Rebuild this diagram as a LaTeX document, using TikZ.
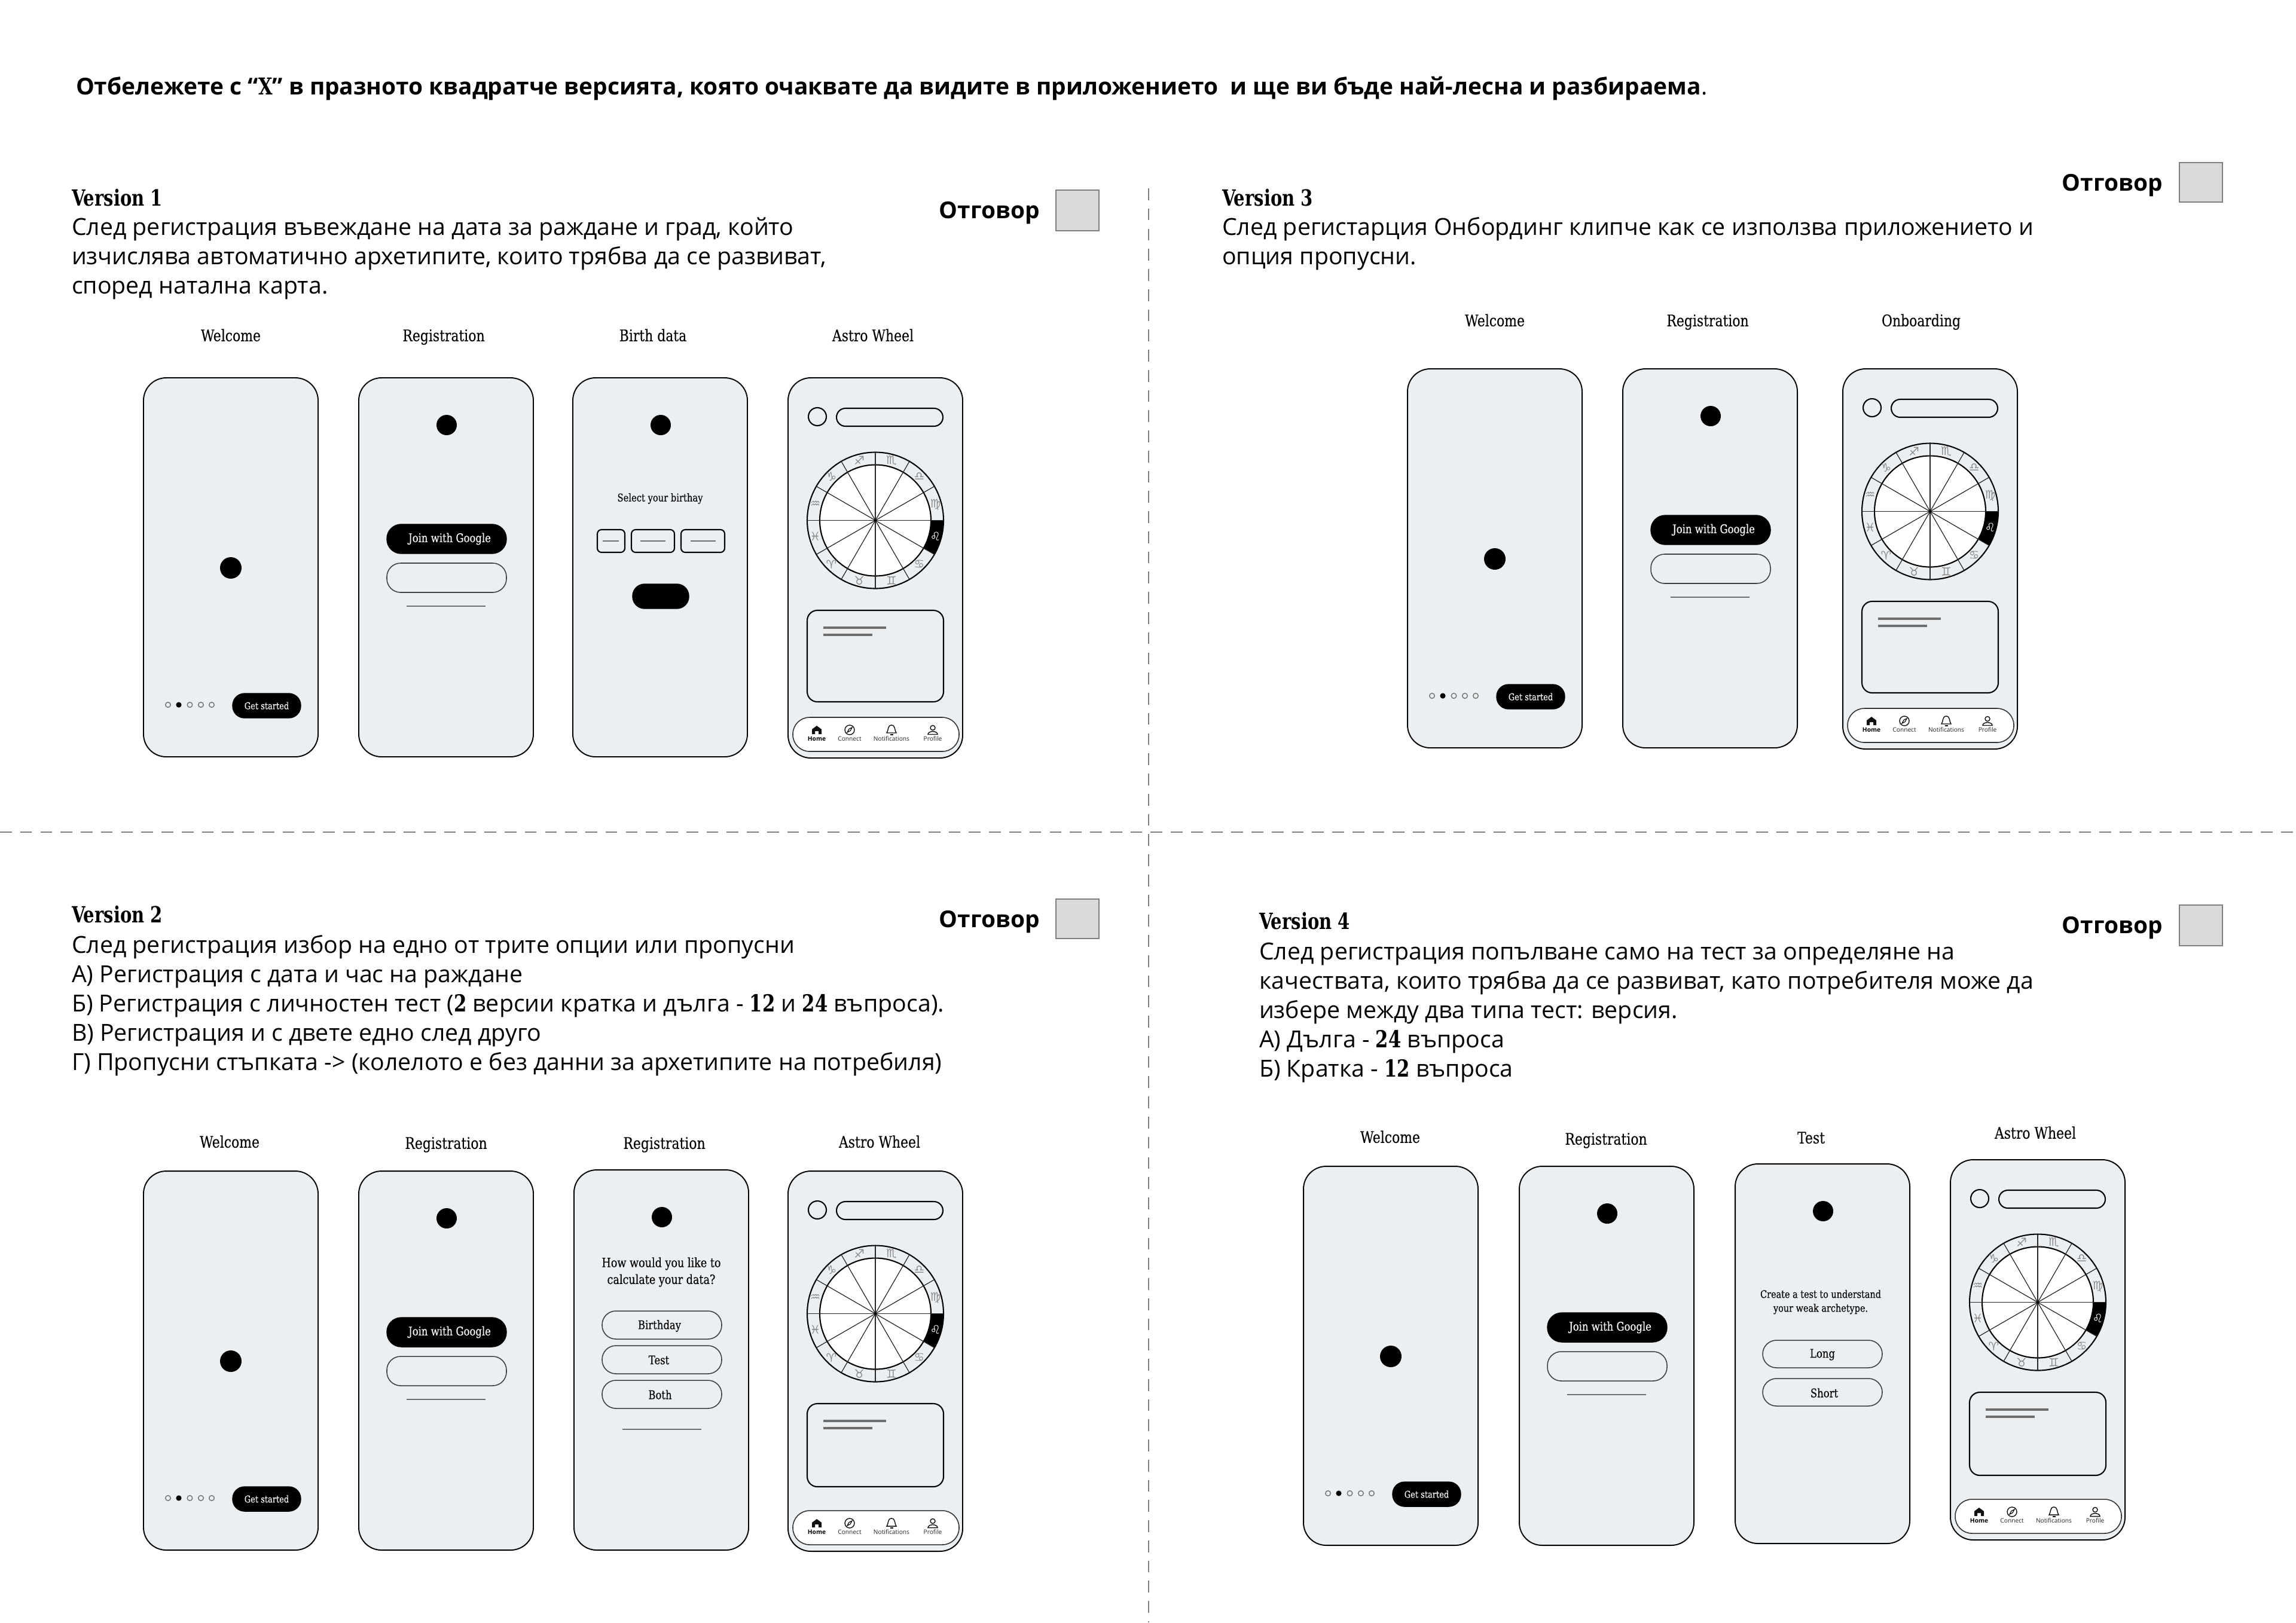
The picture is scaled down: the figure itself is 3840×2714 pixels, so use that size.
\documentclass[tikz,border=0pt]{standalone}
\usepackage{fontspec}
\setmainfont{Open Sans}
\newfontfamily\slab{DejaVu Serif}[FakeStretch=0.82,FakeBold=0.12]
\newfontfamily\slabb{DejaVu Serif Bold}[FakeStretch=0.78]
\newfontfamily\zod{DejaVu Sans}
\definecolor{scr}{HTML}{ECEFF2}
\definecolor{answer}{HTML}{D9D9D9}
\definecolor{dash}{HTML}{7F7F7F}
\definecolor{bar}{HTML}{6E6E6E}
\definecolor{zodg}{HTML}{8A8A8A}
\definecolor{ink}{HTML}{111111}
\tikzset{
  x=0.01cm,y=-0.01cm,
  every node/.style={inner sep=0pt,outer sep=0pt},
  phone/.style={draw=black,fill=scr,line width=0.55pt,rounded corners=0.38cm},
  pillout/.style={draw=black!75,fill=scr,line width=0.45pt,rounded corners=0.23cm},
  pillblack/.style={fill=black,rounded corners=0.2cm},
  joinblack/.style={fill=black,rounded corners=0.24cm},
  field/.style={draw=black,fill=scr,line width=0.6pt,rounded corners=0.07cm},
  barline/.style={draw=bar,line width=0.75pt},
  thinbar/.style={draw=bar,line width=0.4pt},
  body/.style={font=\fontsize{11.17}{13.94}\selectfont,align=left,anchor=north west},
  title/.style={font=\fontsize{11.05}{14}\selectfont\bfseries,anchor=west},
  ver/.style={font=\fontsize{10.6}{12}\selectfont\slabb,anchor=west},
  lab/.style={font=\fontsize{7.6}{10}\selectfont\slab,anchor=center,text height=6pt,text depth=1.6pt},
  mini/.style={font=\fontsize{5.7}{8}\selectfont\slab,anchor=center,align=center},
  tiny/.style={font=\fontsize{4.5}{6}\selectfont\slab,anchor=center,align=center},
  ans/.style={font=\fontsize{11.05}{14}\selectfont\bfseries,anchor=east},
  ansbox/.style={draw=dash,fill=answer,line width=0.5pt},
  sep/.style={draw=dash,line width=0.45pt,dash pattern=on 5.6pt off 4pt},
  navt/.style={font=\fontsize{2.9}{4}\selectfont,anchor=center,text=black!85},
  zg/.style={font=\fontsize{5.6}{7}\selectfont\zod,anchor=center},
}
\newcommand\dg[1]{{\slabb #1}}
\newcommand\welcomephone[3]{%
 \begin{scope}[shift={(#2,#3)}]
  \draw[phone] (0,0) rectangle (292,634);
  \fill[black] (146,318) circle (18);
  \foreach \dx in {41,77.5,96,114} {\draw[black!55,fill=scr,line width=0.4pt] (\dx,547) circle (4.3);}
  \fill[black] (59,547) circle (4.6);
  \draw[pillblack] (149,528) rectangle (263,569);
  \node[tiny,text=white] (#1go) at (206,548.5) {Get started};
 \end{scope}}
\newcommand\regphone[3]{%
 \begin{scope}[shift={(#2,#3)}]
  \draw[phone] (0,0) rectangle (292,634);
  \fill[black] (147,79) circle (17);
  \draw[joinblack] (47,245) rectangle (247,294);
  \node[mini,text=white] (#1join) at (152,269.5) {Join with Google};
  \draw[pillout] (47,310) rectangle (247,359);
  \draw[thinbar] (80,382) -- (212,382);
 \end{scope}}
\newcommand\navitems[1]{%
  \draw[draw=black!80,fill=white,line width=0.45pt,rounded corners=0.28cm] (8,568) rectangle (286,625);
  % home
  \fill[ink] (40,596) -- (40,588) -- (48,582) -- (56,588) -- (56,596) -- (51,596) -- (51,591) -- (45,591) -- (45,596) -- cycle;
  \node[navt,font=\fontsize{2.9}{4}\selectfont\bfseries,text=black] (#1home) at (48,603.5) {Home};
  % connect
  \draw[ink,line width=0.4pt] (103,589) circle (8);
  \draw[ink,line width=0.35pt] (99,593) -- (102,587.5) -- (107,585) -- (104,590.5) -- cycle;
  \node[navt] (#1conn) at (103,603.5) {Connect};
  % bell
  \draw[ink,line width=0.4pt] (165,594) .. controls (168,591) and (166,581) .. (173,581) .. controls (180,581) and (178,591) .. (181,594) -- cycle;
  \draw[ink,line width=0.4pt] (170.5,597) -- (175.5,597);
  \node[navt] (#1noti) at (173,603.5) {Notifications};
  % profile
  \draw[ink,line width=0.4pt] (242,585.5) circle (4);
  \draw[ink,line width=0.4pt] (234,596.5) .. controls (234,590) and (250,590) .. (250,596.5) -- cycle;
  \node[navt] (#1prof) at (242,603.5) {Profile};
}
\newcommand\wheel[1]{%
  \coordinate (#1c) at (146,238.5);
  \draw[black,fill=scr,line width=0.6pt] (#1c) circle (114);
  \fill[black] ($(#1c)+(0:93)$) arc[start angle=0,end angle=30,radius=93] -- ($(#1c)+(30:114)$) arc[start angle=30,end angle=0,radius=114] -- cycle;
  \draw[black,fill=white,line width=0.6pt] (#1c) circle (93);
  \foreach \a in {0,30,...,330} {\draw[black!85,line width=0.35pt] (#1c) -- ($(#1c)+(\a:114)$);}
  \fill[black] (#1c) circle (2);
  \foreach \a/\g/\i in {75/♏/a,45/♎/b,15/♍/c,-45/♋/d,-75/♊/e,-105/♉/f,-135/♈/g,-165/♓/h,165/♒/i,135/♑/j,105/♐/k} {
     \node[zg,text=zodg] (#1z\i) at ($(#1c)+(-\a:104)$) {\g};}
  \node[zg,text=white] (#1zl) at ($(#1c)+(15:104)$) {♌};
}
\newcommand\astrophone[4]{%
 \begin{scope}[shift={(#2,#3)}]
  \draw[phone] (0,0) rectangle (292,636);
  \draw[black,line width=0.6pt] (49,65) circle (15);
  \draw[black,fill=scr,line width=0.6pt,rounded corners=0.15cm] (81,51) rectangle (259,81);
  \wheel{#1}
  \draw[black,fill=scr,line width=0.6pt,rounded corners=0.17cm] (32,389) rectangle (260,#4);
  \draw[barline,line width=0.9pt] (59,418) -- (164,418);
  \draw[barline,line width=0.9pt] (59,430) -- (141,430);
  \navitems{#1}
 \end{scope}}
\usetikzlibrary{calc}
\begin{document}
\begin{tikzpicture}
\useasboundingbox (0,0) rectangle (3840,2714);
\fill[white] (0,0) rectangle (3840,2714);
% separators
\coordinate (hl) at (0,1392); \coordinate (hr) at (3840,1392);
\coordinate (vt) at (1921,315); \coordinate (vb) at (1921,2714);
\draw[sep] (hl) -- (hr);
\draw[sep] (vt) -- (vb);
% title
\node[title] (head) at (127,148) {Отбележете с “\dg{X}” в празното квадратче версията, която очаквате да видите в приложението \ и ще ви бъде най-лесна и разбираема\textmd{.}};
% answers
\node[ans] (a1) at (1739,356) {Отговор}; \draw[ansbox] (1766,318) rectangle (1838,386);
\node[ans] (a3) at (3617,310) {Отговор}; \draw[ansbox] (3645,272) rectangle (3717,338);
\node[ans] (a2) at (1739,1542) {Отговор}; \draw[ansbox] (1766,1504) rectangle (1838,1570);
\node[ans] (a4) at (3617,1552) {Отговор}; \draw[ansbox] (3645,1514) rectangle (3717,1582);
% version 1
\node[ver] (v1) at (120,331) {Version 1};
\node[body] (t1) at (120,359) {\strut След регистрация въвеждане на дата за раждане и град, който\\изчислява автоматично архетипите, които трябва да се развиват,\\според натална карта.};
\node[lab] (l11) at (386,563) {Welcome};
\node[lab] (l12) at (742,563) {Registration};
\node[lab] (l13) at (1092,563) {Birth data};
\node[lab] (l14) at (1460,563) {Astro Wheel};
\welcomephone{p11}{240}{632}
\regphone{p12}{600}{632}
\begin{scope}[shift={(958,632)}]
  \draw[phone] (0,0) rectangle (292,634);
  \fill[black] (147,79) circle (17);
  \node[tiny,font=\fontsize{5.1}{7}\selectfont\slab] (bday) at (146,202) {Select your birthay};
  \draw[field] (41,254) rectangle (87,292);
  \draw[field] (98,254) rectangle (170,292);
  \draw[field] (181,254) rectangle (254,292);
  \draw[thinbar] (50,273) -- (77,273);
  \draw[thinbar] (113,273) -- (155,273);
  \draw[thinbar] (197,273) -- (239,273);
  \draw[pillblack] (100,345) rectangle (194,386);
\end{scope}
\astrophone{p14}{1318}{632}{542}
% version 3
\node[ver] (v3) at (2044,331) {Version 3};
\node[body] (t3) at (2044,359) {\strut След регистарция Онбординг клипче как се използва приложението и\\опция пропусни.};
\node[lab] (l31) at (2500,538) {Welcome};
\node[lab] (l32) at (2856,538) {Registration};
\node[lab] (l33) at (3213,538) {Onboarding};
\welcomephone{p31}{2354}{617}
\regphone{p32}{2714}{617}
\astrophone{p33}{3082}{617}{542}
% version 2
\node[ver] (v2) at (120,1530) {Version 2};
\node[body] (t2) at (120,1560) {\strut След регистрация избор на едно от трите опции или пропусни\\А) Регистрация с дата и час на раждане\\Б) Регистрация с личностен тест (\dg{2} версии кратка и дълга - \dg{12} и \dg{24} въпроса).\\В) Регистрация и с двете едно след друго\\Г) Пропусни стъпката -> (колелото е без данни за архетипите на потребиля)};
\node[lab] (l21) at (384,1912) {Welcome};
\node[lab] (l22) at (746,1914) {Registration};
\node[lab] (l23) at (1111,1914) {Registration};
\node[lab] (l24) at (1471,1912) {Astro Wheel};
\welcomephone{p21}{240}{1959}
\regphone{p22}{600}{1959}
\begin{scope}[shift={(960,1957)}]
  \draw[phone] (0,0) rectangle (292,636);
  \fill[black] (147,79) circle (17);
  \node[mini,font=\fontsize{6.1}{8}\selectfont\slab] (how) at (146,171) {How would you like to\\calculate your data?};
  \draw[pillout] (47,236) rectangle (247,283);
  \draw[pillout] (47,294) rectangle (247,341);
  \draw[pillout] (47,352) rectangle (247,399);
  \node[mini] (b21) at (143,261) {Birthday};
  \node[mini] (b22) at (142,318) {Test};
  \node[mini] (b23) at (144,376) {Both};
  \draw[thinbar] (81,434) -- (213,434);
\end{scope}
\astrophone{p24}{1318}{1959}{528}
% version 4
\node[ver] (v4) at (2106,1541) {Version 4};
\node[body] (t4) at (2106,1571) {\strut След регистрация попълване само на тест за определяне на\\качествата, които трябва да се развиват, като потребителя може да\\избере между два типа тест: версия.\\А) Дълга - \dg{24} въпроса\\Б) Кратка - \dg{12} въпроса};
\node[lab] (l41) at (2325,1904) {Welcome};
\node[lab] (l42) at (2686,1907) {Registration};
\node[lab] (l43) at (3029,1905) {Test};
\node[lab] (l44) at (3404,1897) {Astro Wheel};
\welcomephone{p41}{2180}{1951}
\regphone{p42}{2541}{1951}
\begin{scope}[shift={(2902,1947)}]
  \draw[phone] (0,0) rectangle (292,635);
  \fill[black] (147,79) circle (17);
  \node[tiny,font=\fontsize{5}{6.6}\selectfont\slab] (ct) at (143,231) {Create a test to understand\\your weak archetype.};
  \draw[pillout] (46,295) rectangle (246,341);
  \draw[pillout] (46,359) rectangle (246,405);
  \node[mini] (b41) at (146,319) {Long};
  \node[mini] (b42) at (149,383) {Short};
\end{scope}
\astrophone{p44}{3262}{1940}{528}
\end{tikzpicture}
\end{document}
